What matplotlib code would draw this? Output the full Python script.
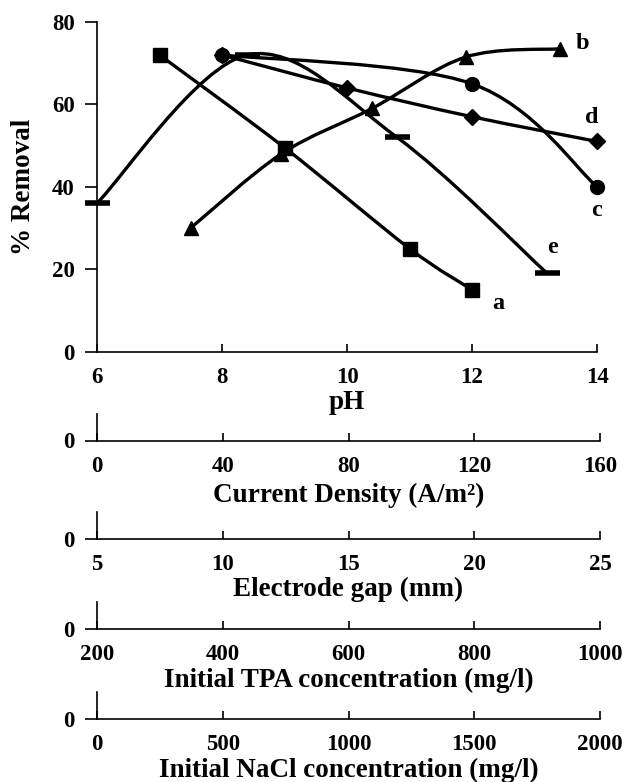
import numpy as np
import matplotlib
matplotlib.use('Agg')
import matplotlib.pyplot as plt
from matplotlib.path import Path
from matplotlib.patches import PathPatch

plt.rcParams['font.family'] = ['Liberation Serif', 'DejaVu Serif']
plt.rcParams['font.weight'] = 'bold'

# ---------------- data ----------------
# a: pH
ph_a = [7, 9, 11, 12]
removal_a = [72, 49.5, 25, 15]
# b: current density (A/m2)
cd_b = [30, 59, 88, 118, 148]
removal_b = [30, 48, 59, 71.5, 73.5]
# c: electrode gap (mm)
gap_c = [10, 20, 25]
removal_c = [72, 65, 40]
# d: initial TPA concentration (mg/l)
tpa_d = [400, 600, 800, 1000]
removal_d = [72, 64, 57, 51]
# e: initial NaCl concentration (mg/l)
nacl_e = [0, 600, 1200, 1800]
removal_e = [36, 72, 52, 19]

ph_ticks = [6, 8, 10, 12, 14]
cd_ticks = [0, 40, 80, 120, 160]
gap_ticks = [5, 10, 15, 20, 25]
tpa_ticks = [200, 400, 600, 800, 1000]
nacl_ticks = [0, 500, 1000, 1500, 2000]
removal_ticks = [0, 20, 40, 60, 80]

series_names = ['a', 'b', 'c', 'd', 'e']
name_pos_x = [12.42, 13.76, 14.0, 13.92, 13.28]   # in pH units of main axes
name_pos_y = [11.7, 74.9, 34.3, 56.7, 25.3]

# ---------------- layout ----------------
W, H = 624, 782
fig = plt.figure(figsize=(W / 100, H / 100), dpi=100)

TICK_FS = 16.5
LABEL_FS = 19.5
LW = 2.4


def style_axes(ax, xticks, xlabel, label_off_px, height_px):
    ax.spines['top'].set_visible(False)
    ax.spines['right'].set_visible(False)
    for s in ('left', 'bottom'):
        ax.spines[s].set_linewidth(1.2)
    ax.set_xlim(xticks[0], xticks[-1])
    ax.set_xticks(xticks)
    ax.set_xticklabels([str(t) for t in xticks], fontsize=TICK_FS, fontweight='bold')
    ax.tick_params(axis='x', direction='in', length=6, width=1.2, pad=11)
    ax.tick_params(axis='y', direction='out', length=9, width=1.2, pad=7,
                   labelsize=TICK_FS)
    ax.set_xlabel(xlabel, fontsize=LABEL_FS, fontweight='bold', va='center')
    ax.xaxis.set_label_coords(0.5, -label_off_px / height_px)
    ax.patch.set_alpha(0)


# main axes
ml, mr, mt, mb = 97, 597, 22, 351.5
ax = fig.add_axes([ml / W, 1 - mb / H, (mr - ml) / W, (mb - mt) / H])
ax.set_ylim(0, 80)
ax.set_yticks(removal_ticks)
ax.set_yticklabels([str(t) for t in removal_ticks], fontweight='bold')
style_axes(ax, ph_ticks, 'pH', 51, mb - mt)
ax.set_ylabel('% Removal', fontsize=19.5, fontweight='bold', va='center')
ax.yaxis.set_label_coords((24 - ml) / (mr - ml), 0.5)

# lower (empty) axes
lower = [
    (cd_ticks, 'Current Density (A/m²)', 440.5, 55),
    (gap_ticks, 'Electrode gap (mm)', 539, 50),
    (tpa_ticks, 'Initial TPA concentration (mg/l)', 629, 51),
    (nacl_ticks, 'Initial NaCl concentration (mg/l)', 719, 51),
]
for ticks, lab, base, off in lower:
    h = 27
    lax = fig.add_axes([ml / W, 1 - base / H, 503 / W, h / H])
    lax.set_ylim(0, 1)
    lax.set_yticks([0])
    lax.set_yticklabels(['0'], fontweight='bold')
    style_axes(lax, ticks, lab, off, h)


def smooth_path(x, y):
    P = np.column_stack([x, y]).astype(float)
    n = len(P)
    verts = [P[0]]
    codes = [Path.MOVETO]
    for i in range(n - 1):
        p_prev = P[i - 1] if i > 0 else P[i]
        p_next2 = P[i + 2] if i + 2 < n else P[i + 1]
        c1 = P[i] + (P[i + 1] - p_prev) / 6.0
        c2 = P[i + 1] - (p_next2 - P[i]) / 6.0
        verts += [c1, c2, P[i + 1]]
        codes += [Path.CURVE4] * 3
    return Path(verts, codes)


# drawing order: d before c so the circle sits on top at the shared start
series = [
    (ph_a, removal_a, ph_ticks, dict(marker='s', ms=9.5)),
    (cd_b, removal_b, cd_ticks, dict(marker='^', ms=10.5)),
    (tpa_d, removal_d, tpa_ticks, dict(marker='D', ms=8)),
    (nacl_e, removal_e, nacl_ticks, dict(marker='_', ms=18, mew=4)),
    (gap_c, removal_c, gap_ticks, dict(marker='o', ms=10)),
]

for xs, ys, ticks, mk in series:
    t = ax.twiny()
    t.set_xlim(ticks[0], ticks[-1])
    t.set_ylim(0, 80)
    t.set_axis_off()
    patch = PathPatch(smooth_path(xs, ys), facecolor='none', edgecolor='black',
                      lw=LW, clip_on=False, capstyle='round', joinstyle='round')
    t.add_patch(patch)
    t.plot(xs, ys, linestyle='none', color='black', clip_on=False, **mk)

for nm, x, y in zip(series_names, name_pos_x, name_pos_y):
    ax.text(x, y, nm, fontsize=17.5, fontweight='bold', ha='center', va='center')

fig.savefig('out.png', dpi=100)
